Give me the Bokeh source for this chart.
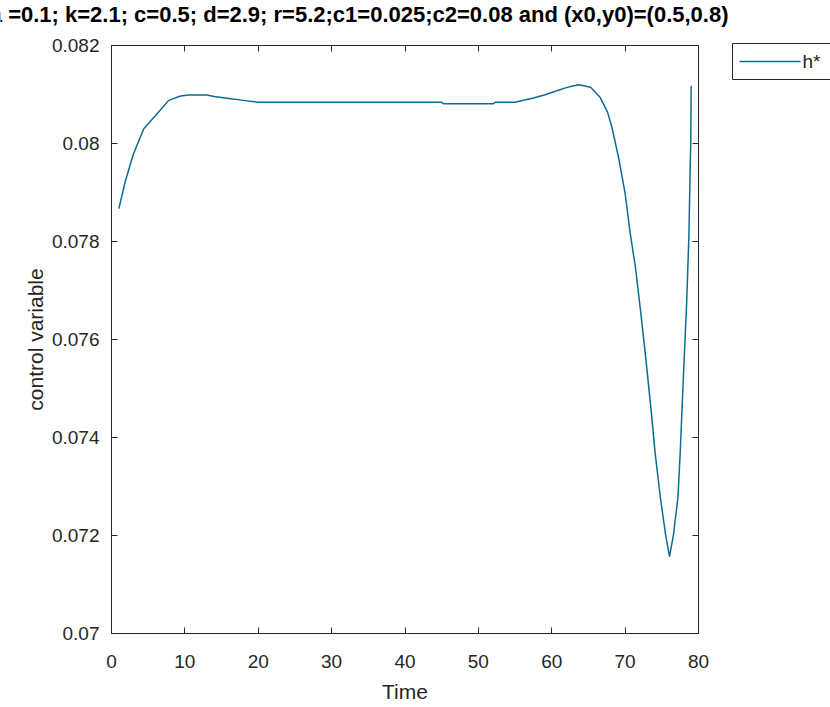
from bokeh.plotting import figure
from bokeh.layouts import row, column
from bokeh.models import LinearAxis, FixedTicker, Range1d
from bokeh.core.properties import value
from bokeh.embed import file_html
from bokeh.resources import INLINE

# ---- data ----
time = [1.0, 1.9, 3.0, 4.4, 6.0, 7.8, 9.4, 10.5, 12.0, 13.0, 14.0, 16.0, 18.0, 20.0,
        30.0, 45.0, 45.3, 52.0, 52.3, 55.0, 57.5, 59.0, 60.8, 62.0, 63.0, 63.7, 65.3,
        66.6, 67.6, 68.2, 69.1, 70.0, 70.7, 71.4, 72.1, 72.8, 73.5, 74.1, 74.8, 75.5,
        76.05, 76.6, 77.2, 77.5, 78.0, 78.4, 78.7, 78.85, 78.95, 79.0]
h_star = [0.07867, 0.07924, 0.07979, 0.08030, 0.08057, 0.08088, 0.08097, 0.08099, 0.08099,
          0.08099, 0.08096, 0.08092, 0.08088, 0.08084, 0.08084, 0.08084, 0.08081, 0.08081,
          0.08084, 0.08084, 0.08093, 0.08099, 0.08108, 0.08114, 0.08118, 0.08120, 0.08115,
          0.08094, 0.08064, 0.08033, 0.07972, 0.07898, 0.07816, 0.07748, 0.07659, 0.07564,
          0.07462, 0.07367, 0.07278, 0.07203, 0.07157, 0.07203, 0.07278, 0.07367, 0.07544,
          0.07680, 0.07816, 0.07938, 0.08006, 0.08118]

x_ticks = [0, 10, 20, 30, 40, 50, 60, 70, 80]
x_tick_labels = ["0", "10", "20", "30", "40", "50", "60", "70", "80"]
y_ticks = [0.070, 0.072, 0.074, 0.076, 0.078, 0.080, 0.082]
y_tick_labels = ["0.07", "0.072", "0.074", "0.076", "0.078", "0.08", "0.082"]

title_text = "a =0.1; k=2.1; c=0.5; d=2.9; r=5.2;c1=0.025;c2=0.08 and (x0,y0)=(0.5,0.8)"
x_label = "Time"
y_label = "control variable"
series_name = "h*"

FONT = "Liberation Sans"
INK = "#262626"
LINE = "#0b6b94"
W, H = 830, 707
STRIP_H = 36          # title strip height (pixels)
MAIN_W = 730          # width of the axes figure
KEY_W = W - MAIN_W    # width of the legend column


def blank(fig):
    fig.outline_line_color = None
    fig.xgrid.grid_line_color = None
    fig.ygrid.grid_line_color = None
    fig.background_fill_color = "white"
    fig.border_fill_color = "white"


# ---- title strip (pixel coordinates, y upward) ----
s = figure(width=W, height=STRIP_H, title=None, output_backend="svg", toolbar_location=None,
           x_axis_type=None, y_axis_type=None, min_border=0, frame_align=False,
           x_range=Range1d(0, W), y_range=Range1d(0, STRIP_H))
blank(s)
s.text(x=[728], y=[STRIP_H - 14], text=[title_text], text_align="right",
       text_baseline="middle", text_font=value(FONT), text_font_size="22px",
       text_font_style="bold", text_color="black")

# ---- main axes ----
p = figure(width=MAIN_W, height=H - STRIP_H, title=None, frame_width=587, frame_height=588,
           output_backend="svg", toolbar_location=None, frame_align=False,
           x_range=Range1d(0, 80), y_range=Range1d(0.07, 0.082),
           min_border_left=111, min_border_right=MAIN_W - 698,
           min_border_top=45 - STRIP_H, min_border_bottom=74)
p.background_fill_color = "white"
p.border_fill_color = "white"
p.outline_line_color = INK
p.outline_line_width = 1
p.xgrid.grid_line_color = None
p.ygrid.grid_line_color = None

r = p.line(time, h_star, line_color=LINE, line_width=1.5)


def style_axis(ax, ticks, labels, show_labels=True):
    ax.ticker = FixedTicker(ticks=ticks)
    ax.axis_line_color = INK
    ax.major_tick_line_color = INK
    ax.major_tick_in = 6
    ax.major_tick_out = 0
    ax.minor_tick_line_color = None
    ax.major_label_text_font = FONT
    ax.major_label_text_color = INK
    if show_labels:
        ax.major_label_overrides = {t: l for t, l in zip(ticks, labels)}
        ax.major_label_text_font_size = "19px"
    else:
        ax.major_label_overrides = {t: "" for t in ticks}
        ax.major_label_standoff = 0
        ax.major_label_text_font_size = "1px"


style_axis(p.xaxis[0], x_ticks, x_tick_labels)
style_axis(p.yaxis[0], y_ticks, y_tick_labels)
p.xaxis[0].major_label_standoff = 21
p.yaxis[0].major_label_standoff = 12
p.xaxis[0].axis_label = x_label
p.yaxis[0].axis_label = y_label
for ax in (p.xaxis[0], p.yaxis[0]):
    ax.axis_label_text_font = FONT
    ax.axis_label_text_font_size = "21px"
    ax.axis_label_text_font_style = "normal"
    ax.axis_label_text_color = INK
p.xaxis[0].axis_label_standoff = 9
p.yaxis[0].axis_label_standoff = 2

top_ax = LinearAxis()
right_ax = LinearAxis()
style_axis(top_ax, x_ticks, x_tick_labels, show_labels=False)
style_axis(right_ax, y_ticks, y_tick_labels, show_labels=False)
p.add_layout(top_ax, "above")
p.add_layout(right_ax, "right")

# ---- legend column (pixel coordinates, y measured upward) ----
KH = H - STRIP_H
q = figure(width=KEY_W, height=KH, title=None, output_backend="svg", toolbar_location=None,
           x_axis_type=None, y_axis_type=None, min_border=0, frame_align=False,
           x_range=Range1d(0, KEY_W), y_range=Range1d(0, KH))
blank(q)
box_top, box_bottom = KH - (43 - STRIP_H), KH - (79 - STRIP_H)
key_y = (box_top + box_bottom) / 2
q.quad(left=[2], right=[KEY_W + 20], top=[box_top], bottom=[box_bottom],
       fill_color="white", line_color=INK, line_width=1)
q.segment(x0=[9], y0=[key_y], x1=[70], y1=[key_y], line_color=LINE, line_width=1.5)
q.text(x=[72], y=[key_y], text=[series_name], text_align="left", text_baseline="middle",
       text_font=value(FONT), text_font_size="19px", text_color=INK)

layout = column(s, row(p, q, spacing=0), spacing=0)
open("out.html", "w").write(file_html(layout, INLINE))
